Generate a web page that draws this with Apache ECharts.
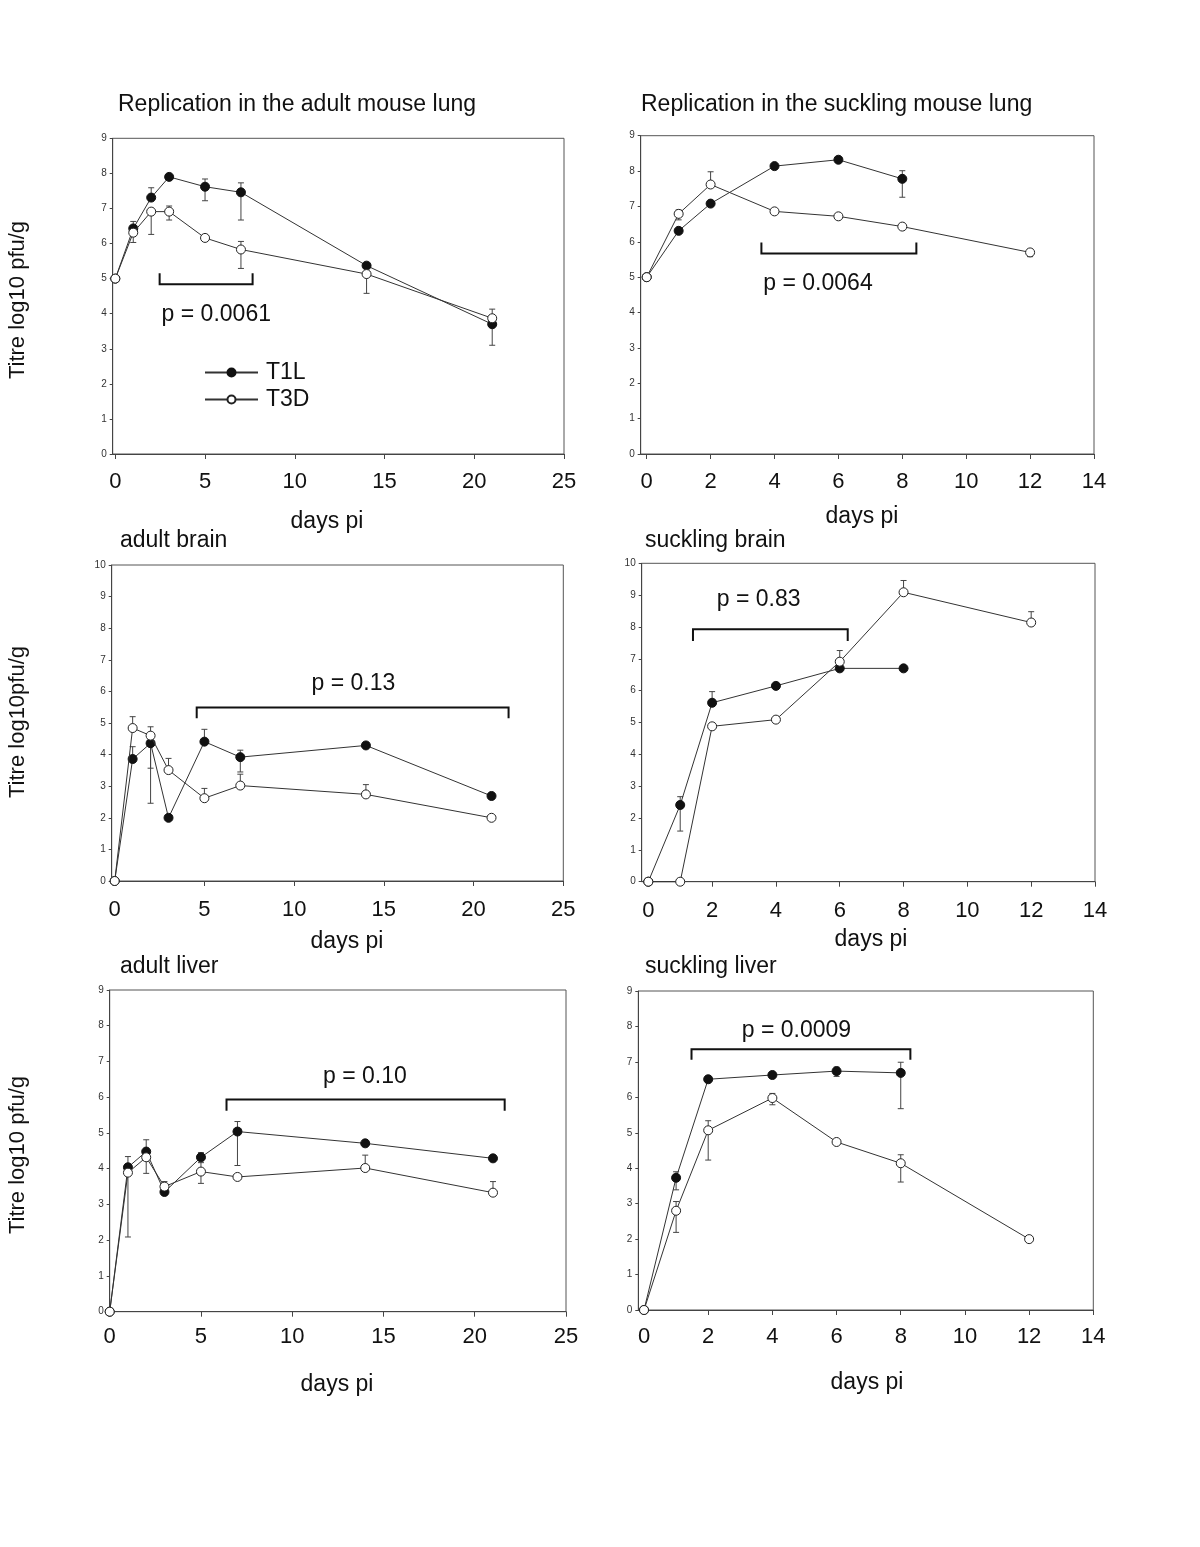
<!DOCTYPE html>
<html>
<head>
<meta charset="utf-8">
<script src="https://cdn.jsdelivr.net/npm/echarts@6/dist/echarts.min.js"></script>
<style>
html,body{margin:0;padding:0;background:#fff}
#main{width:1200px;height:1547px}
</style>
</head>
<body>
<div id="main"></div>
<script>
var FONT = '"Liberation Sans", Arial, sans-serif';

// days post infection
var adultDays = [0, 1, 2, 3, 5, 7, 14, 21];
var sucklingDays = [0, 1, 2, 4, 6, 8, 12];
var adultTicks = [0, 5, 10, 15, 20, 25];
var sucklingTicks = [0, 2, 4, 6, 8, 10, 12, 14];

// adult lung
var adultLungT1L = [5, 6.43, 7.31, 7.9, 7.62, 7.46, 5.37, 3.70];
var adultLungT1LHi = [null, 6.63, 7.59, null, 7.84, 7.73, null, null];
var adultLungT1LLo = [null, null, null, null, 7.22, 6.67, null, 3.10];
var adultLungT3D = [5, 6.31, 6.91, 6.91, 6.16, 5.83, 5.13, 3.87];
var adultLungT3DHi = [null, null, null, 7.07, null, 6.06, null, 4.13];
var adultLungT3DLo = [null, 6.03, 6.26, 6.67, null, 5.29, 4.58, null];

// suckling lung
var sucklingLungT1L = [5, 6.31, 7.08, 8.14, 8.32, 7.78, null];
var sucklingLungT1LHi = [null, null, null, null, null, 8.01, null];
var sucklingLungT1LLo = [null, null, null, null, null, 7.26, null];
var sucklingLungT3D = [5, 6.79, 7.62, 6.86, 6.72, 6.43, 5.70];
var sucklingLungT3DHi = [null, 6.9, 7.98, null, null, null, null];
var sucklingLungT3DLo = [null, 6.62, null, null, null, null, 5.58];

// adult brain
var adultBrainT1L = [0, 3.86, 4.36, 2.0, 4.41, 3.92, 4.29, 2.69];
var adultBrainT1LHi = [null, 4.25, null, null, 4.8, 4.14, null, null];
var adultBrainT1LLo = [null, null, 2.46, null, null, 3.45, null, null];
var adultBrainT3D = [0, 4.84, 4.6, 3.51, 2.62, 3.02, 2.74, 2.0];
var adultBrainT3DHi = [null, 5.2, 4.88, 3.88, 2.93, 3.38, 3.05, null];
var adultBrainT3DLo = [null, null, 3.57, null, null, null, null, null];

// suckling brain
var sucklingBrainT1L = [0, 2.41, 5.62, 6.15, 6.7, 6.7, null];
var sucklingBrainT1LHi = [null, 2.67, 5.97, null, null, null, null];
var sucklingBrainT1LLo = [null, 1.59, null, null, null, null, null];
var sucklingBrainT3D = [0, 0, 4.88, 5.09, 6.91, 9.09, 8.14];
var sucklingBrainT3DHi = [null, null, null, null, 7.26, 9.46, 8.48];
var sucklingBrainT3DLo = [null, null, null, null, null, null, null];

// adult liver
var adultLiverT1L = [0, 4.04, 4.48, 3.35, 4.32, 5.04, 4.71, 4.29];
var adultLiverT1LHi = [null, 4.34, 4.81, null, 4.45, 5.32, null, null];
var adultLiverT1LLo = [null, null, null, null, null, 4.09, null, null];
var adultLiverT3D = [0, 3.89, 4.32, 3.5, 3.92, 3.77, 4.02, 3.33];
var adultLiverT3DHi = [null, null, null, 3.64, 4.17, null, 4.38, 3.64];
var adultLiverT3DLo = [null, 2.09, 3.87, null, 3.59, null, null, null];

// suckling liver
var sucklingLiverT1L = [0, 3.73, 6.51, 6.63, 6.74, 6.69, null];
var sucklingLiverT1LHi = [null, 3.9, null, null, 6.85, 6.99, null];
var sucklingLiverT1LLo = [null, 3.39, null, null, 6.59, 5.68, null];
var sucklingLiverT3D = [0, 2.80, 5.07, 5.98, 4.74, 4.14, 2.0];
var sucklingLiverT3DHi = [null, 3.06, 5.34, 6.11, null, 4.38, null];
var sucklingLiverT3DLo = [null, 2.19, 4.23, 5.79, null, 3.61, null];

// p-value brackets: [x start, x end, y of bar, y of ends]
var bracketAdultLung = [2.47, 7.65, 4.84, 5.15];
var bracketSucklingLung = [3.59, 8.44, 5.67, 5.98];
var bracketAdultBrain = [4.57, 21.95, 5.49, 5.15];
var bracketSucklingBrain = [1.40, 6.25, 7.93, 7.56];
var bracketAdultLiver = [6.4, 21.64, 5.94, 5.62];
var bracketSucklingLiver = [1.48, 8.3, 7.36, 7.06];
var pTexts = ['p = 0.0061', 'p = 0.0064', 'p = 0.13', 'p = 0.83', 'p = 0.10', 'p = 0.0009'];
var pPositions = [[2.58, 3.96], [3.65, 4.81], [13.3, 6.26], [3.46, 8.85], [13.98, 6.58], [4.75, 7.87]];

var panels = [
    {title: 'Replication in the adult mouse lung', titleAt: [118, 105], days: adultDays, ticks: adultTicks,
     t1l: [adultLungT1L, adultLungT1LHi, adultLungT1LLo], t3d: [adultLungT3D, adultLungT3DHi, adultLungT3DLo],
     bracket: bracketAdultLung, pAlign: 'left',
     grid: {left: 112.7, top: 138.3, width: 451.3, height: 315.7}, xMin: -0.145, xMax: 25, yMax: 9, labelMargin: 18,
     xName: [327, 522], yTitle: 'Titre log10 pfu/g', yTitleY: 300},
    {title: 'Replication in the suckling mouse lung', titleAt: [641, 105], days: sucklingDays, ticks: sucklingTicks,
     t1l: [sucklingLungT1L, sucklingLungT1LHi, sucklingLungT1LLo], t3d: [sucklingLungT3D, sucklingLungT3DHi, sucklingLungT3DLo],
     bracket: bracketSucklingLung, pAlign: 'left',
     grid: {left: 640.7, top: 135.7, width: 453.3, height: 318.3}, xMin: -0.188, xMax: 14, yMax: 9, labelMargin: 18,
     xName: [862, 517]},
    {title: 'adult brain', titleAt: [120, 541], days: adultDays, ticks: adultTicks,
     t1l: [adultBrainT1L, adultBrainT1LHi, adultBrainT1LLo], t3d: [adultBrainT3D, adultBrainT3DHi, adultBrainT3DLo],
     bracket: bracketAdultBrain, pAlign: 'center',
     grid: {left: 111.7, top: 565, width: 451.6, height: 316}, xMin: -0.167, xMax: 25, yMax: 10, labelMargin: 19,
     xName: [347, 942], yTitle: 'Titre log10pfu/g', yTitleY: 722},
    {title: 'suckling brain', titleAt: [645, 541], days: sucklingDays, ticks: sucklingTicks,
     t1l: [sucklingBrainT1L, sucklingBrainT1LHi, sucklingBrainT1LLo], t3d: [sucklingBrainT3D, sucklingBrainT3DHi, sucklingBrainT3DLo],
     bracket: bracketSucklingBrain, pAlign: 'center',
     grid: {left: 641.7, top: 563.3, width: 453.3, height: 318.4}, xMin: -0.207, xMax: 14, yMax: 10, labelMargin: 19,
     xName: [871, 940]},
    {title: 'adult liver', titleAt: [120, 967], days: adultDays, ticks: adultTicks,
     t1l: [adultLiverT1L, adultLiverT1LHi, adultLiverT1LLo], t3d: [adultLiverT3D, adultLiverT3DHi, adultLiverT3DLo],
     bracket: bracketAdultLiver, pAlign: 'center',
     grid: {left: 109.7, top: 990, width: 456.3, height: 321.7}, xMin: 0, xMax: 25, yMax: 9, labelMargin: 15,
     xName: [337, 1385], yTitle: 'Titre log10 pfu/g', yTitleY: 1155},
    {title: 'suckling liver', titleAt: [645, 967], days: sucklingDays, ticks: sucklingTicks,
     t1l: [sucklingLiverT1L, sucklingLiverT1LHi, sucklingLiverT1LLo], t3d: [sucklingLiverT3D, sucklingLiverT3DHi, sucklingLiverT3DLo],
     bracket: bracketSucklingLiver, pAlign: 'center',
     grid: {left: 638.3, top: 991, width: 455, height: 319}, xMin: -0.178, xMax: 14, yMax: 9, labelMargin: 17,
     xName: [867, 1383]}
];

function pairs(days, vals) {
    return days.map(function (d, i) { return [d, vals[i]]; });
}

// [x, bottom, top, bottom cap?, top cap?]
function errData(days, vals, hi, lo) {
    var out = [];
    days.forEach(function (d, i) {
        if (vals[i] == null) return;
        if (hi[i] == null && lo[i] == null) return;
        out.push([d, lo[i] == null ? vals[i] : lo[i], hi[i] == null ? vals[i] : hi[i],
            lo[i] == null ? 0 : 1, hi[i] == null ? 0 : 1]);
    });
    return out;
}

function renderErr(params, api) {
    var x = api.value(0);
    var lo = api.coord([x, api.value(1)]);
    var hi = api.coord([x, api.value(2)]);
    var st = {stroke: '#444', lineWidth: 1};
    var kids = [{type: 'line', shape: {x1: lo[0], y1: lo[1], x2: hi[0], y2: hi[1]}, style: st}];
    if (api.value(3)) kids.push({type: 'line', shape: {x1: lo[0] - 3, y1: lo[1], x2: lo[0] + 3, y2: lo[1]}, style: st});
    if (api.value(4)) kids.push({type: 'line', shape: {x1: hi[0] - 3, y1: hi[1], x2: hi[0] + 3, y2: hi[1]}, style: st});
    return {type: 'group', children: kids};
}

var grids = [], xAxes = [], yAxes = [], series = [], graphics = [];

panels.forEach(function (p, k) {
    grids.push({left: p.grid.left, top: p.grid.top, width: p.grid.width, height: p.grid.height,
        show: true, borderColor: '#555', borderWidth: 1, backgroundColor: 'transparent'});
    xAxes.push({
        type: 'value', gridIndex: k, min: p.xMin, max: p.xMax,
        splitLine: {show: false},
        axisLine: {show: true, onZero: false, lineStyle: {color: '#444', width: 1}},
        axisTick: {show: true, inside: false, length: 5, customValues: p.ticks, lineStyle: {color: '#444'}},
        axisLabel: {customValues: p.ticks, fontSize: 22, color: '#111', fontFamily: FONT, margin: p.labelMargin - 1,
            showMinLabel: true, showMaxLabel: true}
    });
    yAxes.push({
        type: 'value', gridIndex: k, min: 0, max: p.yMax, interval: 1,
        splitLine: {show: false},
        axisLine: {show: true, onZero: false, lineStyle: {color: '#444', width: 1}},
        axisTick: {show: true, inside: false, length: 3, lineStyle: {color: '#444'}},
        axisLabel: {fontSize: 10, color: '#333', fontFamily: FONT, margin: 6}
    });

    series.push({
        name: 'err', type: 'custom', xAxisIndex: k, yAxisIndex: k, z: 1, silent: true, clip: false,
        encode: {x: 0, y: [1, 2]}, renderItem: renderErr,
        data: errData(p.days, p.t1l[0], p.t1l[1], p.t1l[2]).concat(errData(p.days, p.t3d[0], p.t3d[1], p.t3d[2]))
    });
    series.push({
        name: 'T1L', type: 'line', xAxisIndex: k, yAxisIndex: k, z: 3, clip: false,
        data: pairs(p.days, p.t1l[0]), symbol: 'circle', symbolSize: 9, showAllSymbol: true,
        lineStyle: {color: '#333', width: 1},
        itemStyle: {color: '#111', borderColor: '#111', borderWidth: 1},
        emphasis: {disabled: true}
    });
    series.push({
        name: 'T3D', type: 'line', xAxisIndex: k, yAxisIndex: k, z: 4, clip: false,
        data: pairs(p.days, p.t3d[0]), symbol: 'circle', symbolSize: 9, showAllSymbol: true,
        lineStyle: {color: '#333', width: 1},
        itemStyle: {color: '#fff', borderColor: '#222', borderWidth: 1},
        emphasis: {disabled: true}
    });

    var pText = pTexts[k], pAlign = p.pAlign;
    series.push({
        name: 'bracket', type: 'custom', xAxisIndex: k, yAxisIndex: k, z: 5, silent: true, clip: false,
        encode: {x: [0, 1], y: [2, 3]},
        data: [p.bracket],
        renderItem: function (params, api) {
            var a = api.coord([api.value(0), api.value(3)]);
            var b = api.coord([api.value(0), api.value(2)]);
            var c = api.coord([api.value(1), api.value(2)]);
            var d = api.coord([api.value(1), api.value(3)]);
            return {type: 'polyline', shape: {points: [a, b, c, d]},
                style: {stroke: '#111', lineWidth: 2, fill: null}};
        }
    });
    series.push({
        name: 'ptext', type: 'custom', xAxisIndex: k, yAxisIndex: k, z: 5, silent: true, clip: false,
        encode: {x: 0, y: 1},
        data: [pPositions[k]],
        renderItem: function (params, api) {
            var pt = api.coord([api.value(0), api.value(1)]);
            return {type: 'text', x: pt[0], y: pt[1],
                style: {text: pText, fontSize: 23, fontFamily: FONT, fill: '#111', align: pAlign, verticalAlign: 'middle'}};
        }
    });

    graphics.push({type: 'text', x: p.titleAt[0], y: p.titleAt[1],
        style: {text: p.title, fontSize: 23, fontFamily: FONT, fill: '#111', align: 'left', verticalAlign: 'middle'}});
    graphics.push({type: 'text', x: p.xName[0], y: p.xName[1],
        style: {text: 'days pi', fontSize: 23, fontFamily: FONT, fill: '#111', align: 'center', verticalAlign: 'middle'}});
    if (p.yTitle) {
        graphics.push({type: 'text', x: 18, y: p.yTitleY, rotation: Math.PI / 2,
            style: {text: p.yTitle, fontSize: 22, fontFamily: FONT, fill: '#111', align: 'center', verticalAlign: 'middle'}});
    }
});

var myChart = echarts.init(document.getElementById('main'), null, {renderer: 'canvas'});
myChart.setOption({
    backgroundColor: '#fff',
    animation: false,
    legend: {
        data: ['T1L', 'T3D'], orient: 'vertical', left: 199, top: 356,
        itemWidth: 53, itemHeight: 10, itemGap: 4,
        textStyle: {fontSize: 23, fontFamily: FONT, color: '#111', padding: [0, 0, 0, 3]},
        selectedMode: false
    },
    grid: grids,
    xAxis: xAxes,
    yAxis: yAxes,
    series: series,
    graphic: graphics
});
</script>
</body>
</html>
